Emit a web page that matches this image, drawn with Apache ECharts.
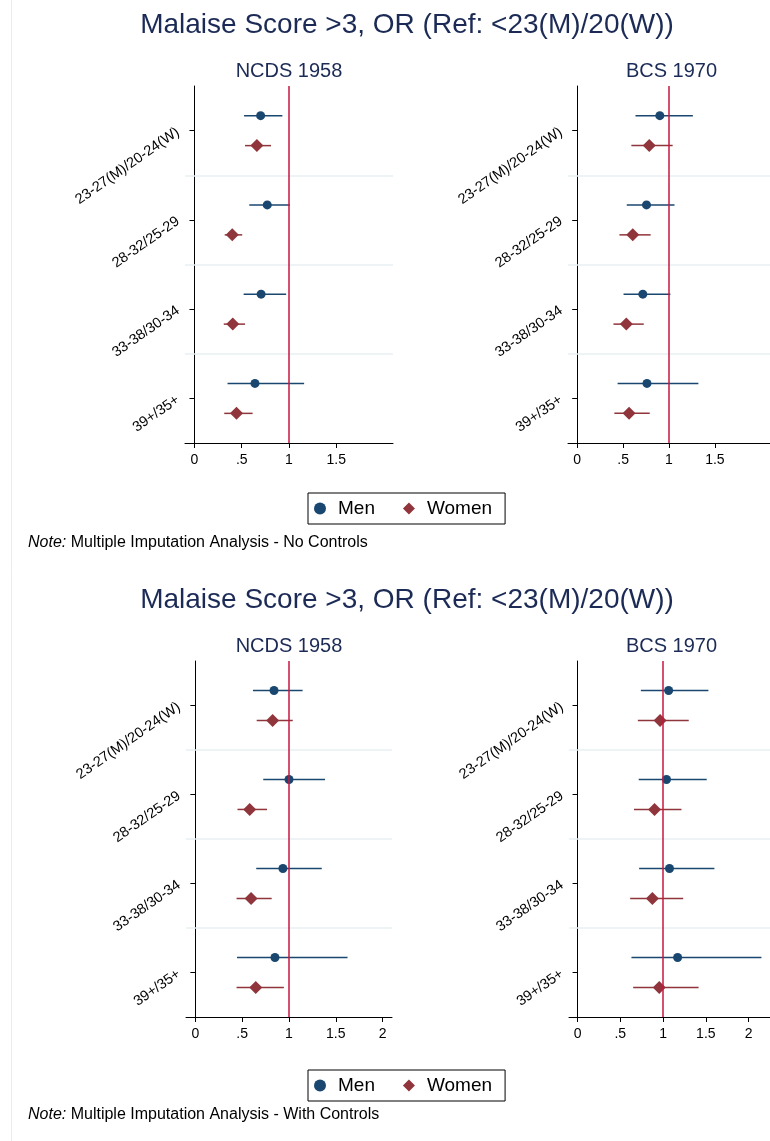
<!DOCTYPE html>
<html>
<head>
<meta charset="utf-8">
<script src="https://cdn.jsdelivr.net/npm/echarts@6/dist/echarts.min.js"></script>
<style>
  html, body { margin: 0; padding: 0; background: #fff; }
  #chart { width: 770px; height: 1141px; }
</style>
</head>
<body>
<div id="chart"></div>
<script>
// Age groups (men / women reference bands differ)
const ageGroups = ['23-27(M)/20-24(W)', '28-32/25-29', '33-38/30-34', '39+/35+'];

// Each entry: [odds ratio, lower 95% CI, upper 95% CI], one per age group
const ncdsMenNoCtrl   = [[0.70, 0.525, 0.93], [0.77, 0.58, 1.01], [0.705, 0.52, 0.97], [0.64, 0.35, 1.16]];
const ncdsWomenNoCtrl = [[0.66, 0.535, 0.81], [0.40, 0.32, 0.505], [0.405, 0.31, 0.535], [0.445, 0.315, 0.615]];
const bcsMenNoCtrl    = [[0.90, 0.635, 1.26], [0.755, 0.54, 1.06], [0.715, 0.505, 1.015], [0.76, 0.44, 1.32]];
const bcsWomenNoCtrl  = [[0.785, 0.59, 1.04], [0.605, 0.46, 0.80], [0.535, 0.395, 0.725], [0.565, 0.405, 0.79]];

const ncdsMenCtrl     = [[0.84, 0.615, 1.145], [1.00, 0.725, 1.385], [0.935, 0.65, 1.35], [0.85, 0.445, 1.625]];
const ncdsWomenCtrl   = [[0.825, 0.655, 1.04], [0.58, 0.45, 0.765], [0.595, 0.44, 0.815], [0.645, 0.44, 0.945]];
const bcsMenCtrl      = [[1.065, 0.74, 1.53], [1.04, 0.715, 1.51], [1.075, 0.72, 1.60], [1.17, 0.63, 2.15]];
const bcsWomenCtrl    = [[0.965, 0.705, 1.30], [0.90, 0.66, 1.215], [0.875, 0.615, 1.235], [0.955, 0.65, 1.415]];

// x-axis tick labels
const xTicksNoCtrl = [0, 0.5, 1, 1.5];
const xTicksCtrl   = [0, 0.5, 1, 1.5, 2];

const mainTitle = 'Malaise Score >3, OR (Ref: <23(M)/20(W))';
const cohortNames = ['NCDS 1958', 'BCS 1970'];
const notes = ['Multiple Imputation Analysis - No Controls', 'Multiple Imputation Analysis - With Controls'];

const FONT = '"Liberation Sans", Arial, Helvetica, sans-serif';
const NAVY = '#1a476f';
const MAROON = '#90353b';
const TITLE_COLOR = '#1c2b56';
const REF_COLOR = '#c8163f';
const SEP_COLOR = '#e8f0f3';
const DODGE = 0.168;   // vertical offset of men/women rows around each age-group tick

const panels = [
  { grid: { left: 185, top: 86, width: 208, height: 357 }, xMax: 2.1,  ticks: xTicksNoCtrl, men: ncdsMenNoCtrl, women: ncdsWomenNoCtrl },
  { grid: { left: 568, top: 86, width: 207, height: 357 }, xMax: 2.1,  ticks: xTicksNoCtrl, men: bcsMenNoCtrl,  women: bcsWomenNoCtrl },
  { grid: { left: 186, top: 661, width: 206, height: 356 }, xMax: 2.1,  ticks: xTicksCtrl,   men: ncdsMenCtrl,   women: ncdsWomenCtrl },
  { grid: { left: 569, top: 661, width: 205, height: 356 }, xMax: 2.25, ticks: xTicksCtrl,   men: bcsMenCtrl,    women: bcsWomenCtrl }
];

const fmtX = v => (v === 0 ? '0' : String(v).replace(/^0\./, '.'));

const grids = [], xAxes = [], yAxes = [], series = [];

function whiskerRender(color) {
  return function (params, api) {
    const a = api.coord([api.value(0), api.value(2)]);
    const b = api.coord([api.value(1), api.value(2)]);
    return {
      type: 'line',
      shape: { x1: a[0], y1: a[1], x2: b[0], y2: b[1] },
      style: { stroke: color, lineWidth: 1.5 }
    };
  };
}

panels.forEach((p, i) => {
  grids.push(p.grid);
  xAxes.push({
    type: 'value', gridIndex: i, min: -0.1, max: p.xMax,
    axisLine: { show: true, lineStyle: { color: '#000', width: 1 } },
    axisTick: { show: true, length: 5, lineStyle: { color: '#000' }, customValues: p.ticks },
    axisLabel: { customValues: p.ticks, formatter: fmtX, fontFamily: FONT, fontSize: 14, color: '#000', margin: 10 },
    splitLine: { show: false }
  });
  yAxes.push({
    type: 'value', gridIndex: i, min: 0.5, max: 4.5, inverse: true,
    axisLine: { show: true, lineStyle: { color: '#000', width: 1 } },
    axisTick: { show: true, length: 5, lineStyle: { color: '#000' }, customValues: [1, 2, 3, 4] },
    axisLabel: {
      customValues: [1, 2, 3, 4],
      formatter: v => ageGroups[Math.round(v) - 1] || '',
      rotate: 35, fontFamily: FONT, fontSize: 14.5, color: '#000', margin: 7
    },
    splitLine: { show: false }
  });

  const menCI = p.men.map((d, k) => [d[1], d[2], k + 1 - DODGE]);
  const womenCI = p.women.map((d, k) => [d[1], d[2], k + 1 + DODGE]);
  const menPts = p.men.map((d, k) => [d[0], k + 1 - DODGE]);
  const womenPts = p.women.map((d, k) => [d[0], k + 1 + DODGE]);

  // separators between age groups and the OR = 1 reference line
  series.push({
    type: 'custom', name: 'Men CI', xAxisIndex: i, yAxisIndex: i, z: 2,
    renderItem: whiskerRender(NAVY), data: menCI,
    encode: { x: [0, 1], y: 2 }, silent: true,
    markLine: {
      silent: true, symbol: ['none', 'none'], label: { show: false }, animation: false,
      data: [
        { yAxis: 1.5, lineStyle: { color: SEP_COLOR, width: 1.5, type: 'solid' } },
        { yAxis: 2.5, lineStyle: { color: SEP_COLOR, width: 1.5, type: 'solid' } },
        { yAxis: 3.5, lineStyle: { color: SEP_COLOR, width: 1.5, type: 'solid' } },
        { xAxis: 1, lineStyle: { color: REF_COLOR, width: 1.5, type: 'solid' } }
      ]
    }
  });
  series.push({
    type: 'custom', name: 'Women CI', xAxisIndex: i, yAxisIndex: i, z: 2,
    renderItem: whiskerRender(MAROON), data: womenCI,
    encode: { x: [0, 1], y: 2 }, silent: true
  });
  series.push({
    type: 'scatter', name: 'Men', xAxisIndex: i, yAxisIndex: i, z: 4,
    symbol: 'circle', symbolSize: 9, itemStyle: { color: NAVY, opacity: 1 },
    data: menPts
  });
  series.push({
    type: 'scatter', name: 'Women', xAxisIndex: i, yAxisIndex: i, z: 4,
    symbol: 'diamond', symbolSize: 13, itemStyle: { color: MAROON, opacity: 1 },
    data: womenPts
  });
});

function legendAt(top) {
  return {
    left: 308, top: top, orient: 'horizontal',
    data: [{ name: 'Men', icon: 'circle' }, { name: 'Women', icon: 'diamond' }],
    itemWidth: 12, itemHeight: 12, itemGap: 28,
    borderColor: '#000', borderWidth: 1, padding: [6, 13, 6, 6],
    textStyle: { fontFamily: FONT, fontSize: 19, color: '#000', padding: [0, 0, 0, 7] },
    selectedMode: false
  };
}

const textEl = (x, y, text, size, color, align) => ({
  type: 'text', x: x, y: y, silent: true,
  style: { text: text, font: size + 'px ' + FONT, fill: color, textAlign: align || 'center', textVerticalAlign: 'middle' }
});

const graphics = [
  { type: 'line', silent: true, shape: { x1: 11.5, y1: 0, x2: 11.5, y2: 1141 }, style: { stroke: '#ececec', lineWidth: 1 } }
];
[0, 575].forEach((off, r) => {
  graphics.push(textEl(407, 25 + off, mainTitle, 28, TITLE_COLOR));
  graphics.push(textEl(289, 71 + off, cohortNames[0], 20, TITLE_COLOR));
  graphics.push(textEl(671.5, 71 + off, cohortNames[1], 20, TITLE_COLOR));
  graphics.push({
    type: 'text', x: 28, y: r === 0 ? 543 : 1115, silent: true,
    style: {
      text: '{i|Note:} ' + notes[r],
      font: '16px ' + FONT, fill: '#000', textAlign: 'left', textVerticalAlign: 'middle',
      rich: { i: { fontStyle: 'italic', fontSize: 16, fontFamily: FONT, fill: '#000' } }
    }
  });
});

const chart = echarts.init(document.getElementById('chart'), null, { renderer: 'canvas' });
chart.setOption({
  backgroundColor: '#fff',
  animation: false,
  grid: grids,
  xAxis: xAxes,
  yAxis: yAxes,
  legend: [legendAt(493), legendAt(1070)],
  series: series,
  graphic: graphics
});
</script>
</body>
</html>
